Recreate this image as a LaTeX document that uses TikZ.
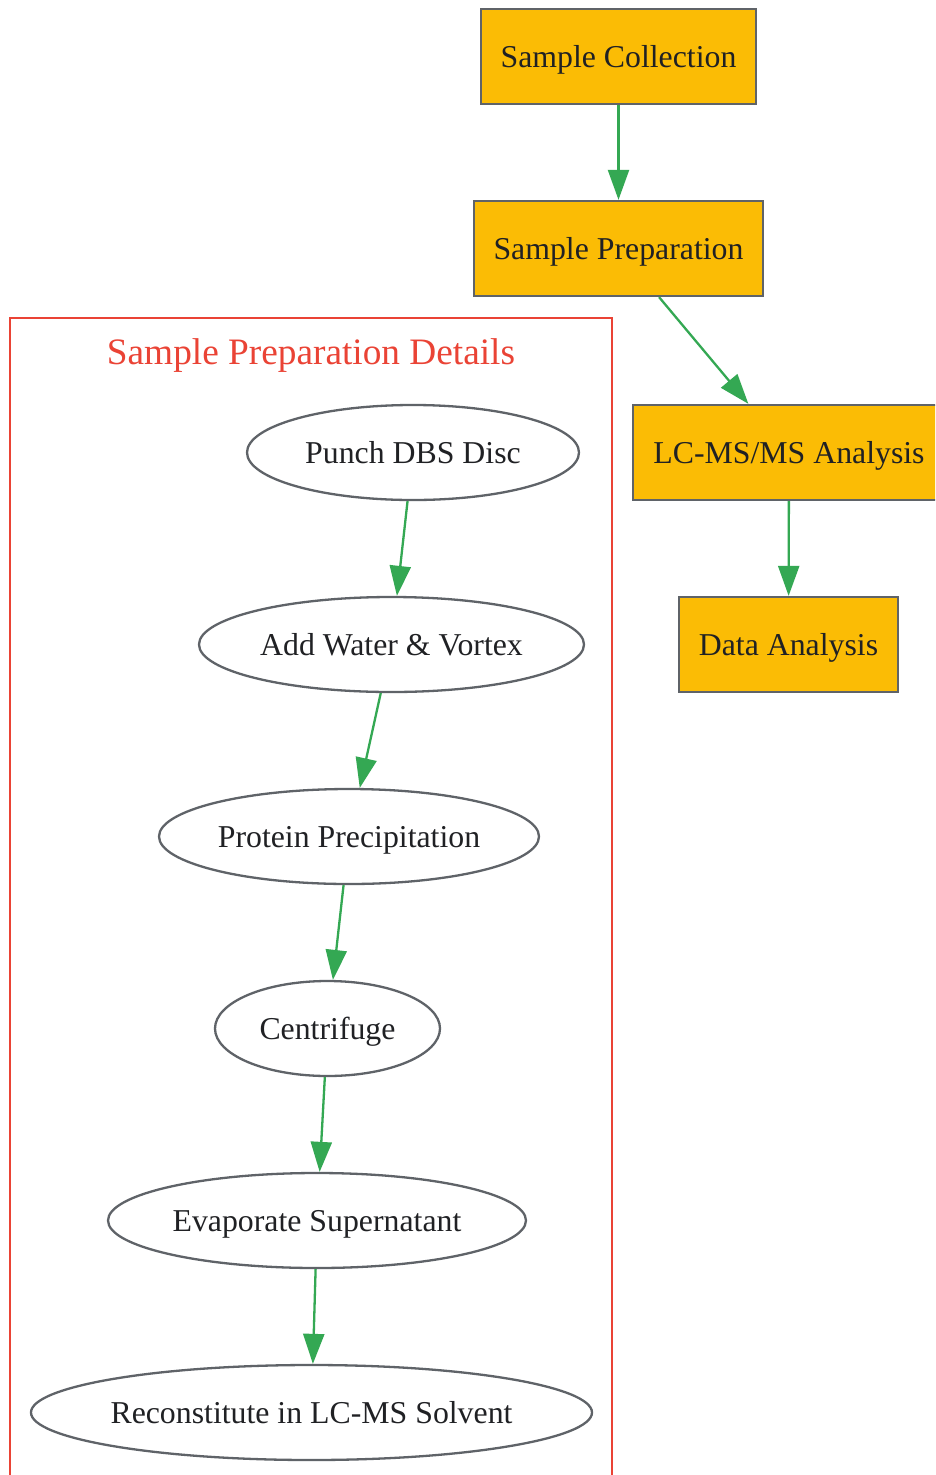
\documentclass[tikz,border=0pt]{standalone}
\usepackage{fontspec}
\setmainfont{Liberation Serif}
\usetikzlibrary{shapes.geometric,arrows.meta}
\definecolor{boxfill}{HTML}{FBBC05}
\definecolor{edgegrey}{HTML}{5F6368}
\definecolor{arrgreen}{HTML}{34A853}
\definecolor{clred}{HTML}{EA4335}
\definecolor{txt}{HTML}{202124}
\newcommand{\zw}[1]{\makebox[0pt]{#1}}
\tikzset{
  lbl/.style={font=\fontsize{31.8}{36}\selectfont, text=txt, text height=27pt, text depth=5pt},
  stagebox/.style={lbl, draw=edgegrey, fill=boxfill, line width=2.3pt, rectangle, inner sep=0pt, minimum height=95pt},
  stepell/.style={lbl, draw=edgegrey, line width=2.3pt, ellipse, inner sep=0pt, minimum height=95pt},
  conn/.style={draw=arrgreen, line width=2.3pt, -{Triangle[length=30pt,width=21pt]}},
}
\begin{document}
\begin{tikzpicture}[x=1pt,y=-1pt]
\clip (0,0) rectangle (935,1475);
\fill[white] (0,0) rectangle (935,1475);
% cluster
\draw[clred, line width=2pt] (10,1500) -- (10,318) -- (612,318) -- (612,1500);
\node[font=\fontsize{37.3}{42}\selectfont, text=clred, anchor=base, inner sep=0pt] (title) at (311,364) {Sample Preparation Details};
% main stages
\node[stagebox, minimum width=275pt] (coll) at (618.5,56.5) {Sample Collection};
\node[stagebox, minimum width=289pt] (prep) at (618.5,248.5) {Sample Preparation};
\node[stagebox, minimum width=312pt] (lcms) at (789,452.5) {LC-MS/MS Analysis};
\node[stagebox, minimum width=219pt] (data) at (788.5,644.5) {Data Analysis};
% detail steps
\node[stepell, minimum width=332pt] (punch) at (413,452.5) {\zw{Punch DBS Disc}};
\node[stepell, minimum width=385pt] (water) at (391.5,644.5) {\zw{Add Water \& Vortex}};
\node[stepell, minimum width=380pt] (prot) at (349,836.5) {\zw{Protein Precipitation}};
\node[stepell, minimum width=225pt] (cent) at (327.5,1028.5) {\zw{Centrifuge}};
\node[stepell, minimum width=418pt] (evap) at (317,1220.5) {\zw{Evaporate Supernatant}};
\node[stepell, minimum width=561pt] (recon) at (311.5,1412.5) {\zw{Reconstitute in LC-MS Solvent}};
% connectors
\draw[conn] (coll) -- (prep);
\draw[conn] (prep) -- (lcms);
\draw[conn] (lcms) -- (data);
\draw[conn] (punch) -- (water);
\draw[conn] (water) -- (prot);
\draw[conn] (prot) -- (cent);
\draw[conn] (cent) -- (evap);
\draw[conn] (evap) -- (recon);
\end{tikzpicture}
\end{document}
